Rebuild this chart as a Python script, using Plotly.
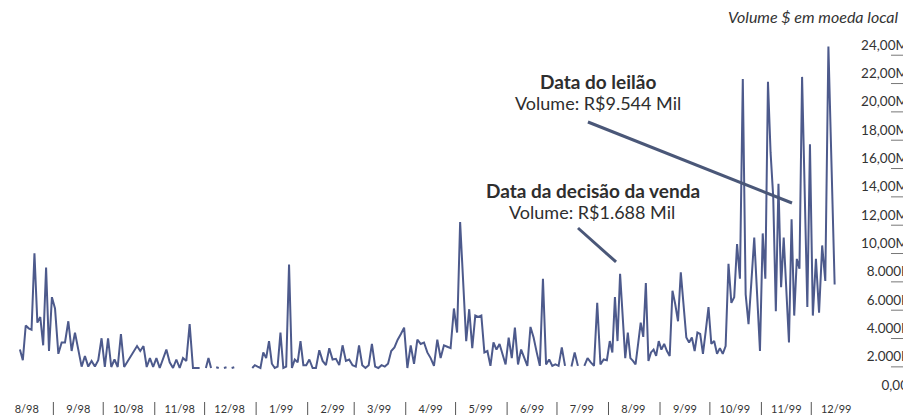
import pandas as pd
import plotly.graph_objects as go

# ---------------- data (volume in millions of local currency) ----------------
month_labels = ["8/98", "9/98", "10/98", "11/98", "12/98", "1/99", "2/99", "3/99",
                "4/99", "5/99", "6/99", "7/99", "8/99", "9/99", "10/99", "11/99", "12/99"]

aug98 = [2.5, 1.75, 4.2, 4.0, 3.9, 9.3, 4.4, 4.8, 2.8, 8.3, 2.4, 6.2]
sep98 = [5.4, 2.2, 3.0, 3.0, 4.5, 2.4, 3.7, 2.4, 1.3, 2.05, 1.3, 1.7, 1.3, 1.75, 3.3]
oct98 = [1.27, 3.3, 1.27, 1.8, 1.27, 3.6, 1.27, 1.65, 2.05, 2.4, 2.75, 2.4, 2.75, 1.27, 1.9, 1.27]
nov98 = [1.9, 1.2, 1.85, 2.5, 1.6, 1.2, 1.8, 1.2, 1.9, 1.7, 4.3, 1.2, 1.2, 1.2, None]
dec98 = [1.2, 1.9, 1.2, None, 1.25, 1.2, None, 1.2, 1.25, None, 1.2, 1.25,
         None, None, None, None, None, None, 1.2, 1.4]
jan99 = [1.3, 1.2, 2.3, 1.9, 3.1, 1.5, 1.2, 1.3, 3.7, 1.2, 1.3, 8.5, 1.2, 1.8, 1.6, 3.1, 1.4, 1.4]
feb99 = [1.8, 1.2, 1.2, 2.45, 1.7, 1.4, 2.6, 1.8, 1.85, 1.4, 2.8, 1.7, 1.8, 1.4]
mar99 = [1.3, 2.8, 1.4, 1.2, 1.4, 2.9, 1.3, 1.2, 1.4, 1.3, 1.5, 2.4, 2.65, 3.2, 3.6, 4.05]
apr99 = [1.2, 2.8, 1.5, 3.2, 2.9, 3.0, 2.3, 1.9, 1.35, 3.2, 1.9, 2.8, 2.7, 2.6, 5.4]
may99 = [3.7, 11.5, 7.3, 3.1, 5.35, 2.6, 4.9, 4.8, 4.9, 2.3, 2.4, 1.35, 3.0, 2.5, 2.9, 2.2, 1.45]
jun99 = [3.35, 1.9, 4.05, 1.45, 2.5, 1.9, 1.35, 4.1, 3.35, 2.3, 1.35, 7.5, 1.45, 1.8, 1.35, 1.45]
jul99 = [1.35, 2.65, 1.35, None, 1.3, 2.3, 1.35, None, 1.35, 1.9, 1.6, 1.35, 5.8, 1.45, 1.8, 1.75]
aug99 = [3.1, 2.3, 6.2, 3.1, 7.85, 4.5, 1.9, 3.7, 1.9, 1.7, 1.45, 2.9, 4.4, 3.4, 7.2,
         1.7, 2.3, 2.5, 2.05, 3.1]
sep99 = [2.5, 2.9, 2.4, 2.05, 6.65, 5.7, 4.5, 7.95, 5.5, 3.35, 3.0, 3.35, 2.4, 3.7, 3.6, 2.2, 3.8, 5.5]
oct99 = [2.9, 3.1, 2.2, 2.6, 2.2, 2.75, 8.55, 5.8, 6.2, 9.95, 7.5, 21.6, 6.4, 4.3, 7.3, 10.4, 6.4, 2.4]
nov99 = [10.7, 7.5, 21.4, 16.4, 13.3, 5.2, 14.2, 6.9, 10.4, 6.7, 3.0, 11.7, 4.9, 8.9, 8.2,
         21.75, 13.6, 5.5, 17.0]
dec99 = [4.9, 8.9, 5.1, 9.85, 7.35, 23.9, 15.5, 7.1]

monthly = [aug98, sep98, oct98, nov98, dec98, jan99, feb99, mar99, apr99,
           may99, jun99, jul99, aug99, sep99, oct99, nov99, dec99]

y_tick_values = [0, 2, 4, 6, 8, 10, 12, 14, 16, 18, 20, 22, 24]
y_tick_labels = ["0,00", "2.000k", "4.000k", "6.000k", "8.000k", "10,00M", "12,00M",
                 "14,00M", "16,00M", "18,00M", "20,00M", "22,00M", "24,00M"]

series_start = pd.Timestamp("1998-08-11")
series_end = pd.Timestamp("1999-12-16")

# --------------- build x (dates) from the monthly lists ---------------
month_starts = pd.date_range("1998-08-01", periods=len(monthly), freq="MS")
xs, ys = [], []
for k, (mstart, vals) in enumerate(zip(month_starts, monthly)):
    s = series_start if k == 0 else mstart
    e = series_end if k == len(monthly) - 1 else mstart + pd.offsets.MonthBegin(1)
    step = (e - s) / len(vals)
    for i, v in enumerate(vals):
        xs.append(s + step * (i + 0.5))
        ys.append(v)

mid_months = [m + pd.Timedelta(days=15) for m in month_starts]

LINE = "#4d5a8c"
TXT = "#2e2e2e"
FONT = "Lato"

fig = go.Figure()
fig.add_trace(go.Scatter(x=xs, y=ys, mode="lines",
                         line=dict(color=LINE, width=2), connectgaps=False,
                         hoverinfo="skip", showlegend=False))

fig.update_layout(
    width=903, height=411,
    margin=dict(l=0, r=3, t=22, b=18),
    paper_bgcolor="white", plot_bgcolor="white",
    font=dict(family=FONT, color=TXT),
    xaxis=dict(
        type="date",
        range=["1998-08-04 17:00", "2000-01-28 04:48"],
        tickmode="array", tickvals=mid_months, ticktext=month_labels,
        ticks="", showgrid=False, zeroline=False, showline=False,
        tickfont=dict(size=11, color="#333"),
    ),
    yaxis=dict(
        side="left", anchor="free", position=1.0,
        range=[-1.13, 25.06],
        tickmode="array", tickvals=y_tick_values, ticktext=y_tick_labels,
        ticks="", showgrid=False, zeroline=False, showline=False,
        tickfont=dict(size=13.5, color="#333"),
    ),
)

shapes = []
# month separators below the axis
for m in month_starts[1:]:
    shapes.append(dict(type="line", xref="x", yref="paper",
                       x0=m, x1=m, y0=-1 / 371, y1=-14 / 371,
                       line=dict(color="#555", width=1)))
# short rules under each value label
for v in y_tick_values[1:]:
    shapes.append(dict(type="line", xref="paper", yref="y",
                       x0=0.9811, x1=0.9978, y0=v - 0.72, y1=v - 0.72,
                       line=dict(color="#777", width=1)))
# pointer lines of the two call-outs
shapes.append(dict(type="line", xref="paper", yref="paper",
                   x0=0.6444, y0=0.752, x1=0.8711, y1=0.5337,
                   line=dict(color="#4a5778", width=3)))
shapes.append(dict(type="line", xref="paper", yref="paper",
                   x0=0.6333, y0=0.4663, x1=0.6756, y1=0.3747,
                   line=dict(color="#4a5778", width=3)))
fig.update_layout(shapes=shapes)

ann = [
    dict(text="<i>Volume $ em moeda local</i>", x=0.9925, y=1.0377,
         xanchor="right", yanchor="middle", font=dict(size=16, color="#333")),
    dict(text="<b>Data do leilão</b>", x=0.6556, y=0.8625,
         xanchor="center", yanchor="middle", font=dict(size=19, color=TXT)),
    dict(text="Volume: R$9.544 Mil", x=0.6556, y=0.8032,
         xanchor="center", yanchor="middle", font=dict(size=18, color=TXT)),
    dict(text="<b>Data da decisão da venda</b>", x=0.65, y=0.5687,
         xanchor="center", yanchor="middle", font=dict(size=19, color=TXT)),
    dict(text="Volume: R$1.688 Mil", x=0.6489, y=0.5094,
         xanchor="center", yanchor="middle", font=dict(size=18, color=TXT)),
]
for a in ann:
    a.update(xref="paper", yref="paper", showarrow=False)
fig.update_layout(annotations=ann)

fig.write_html("out.html")
